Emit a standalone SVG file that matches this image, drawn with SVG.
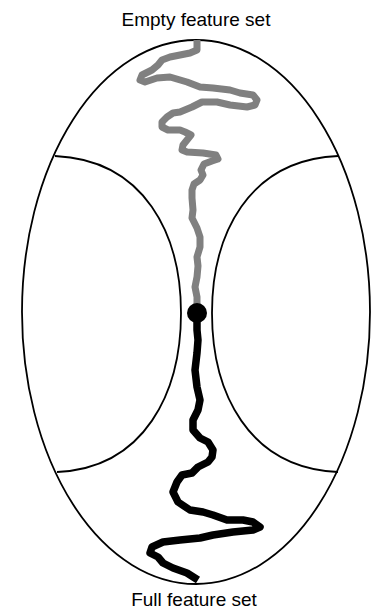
<svg xmlns="http://www.w3.org/2000/svg" width="371" height="614" viewBox="0 0 371 614">
<style>
.lbl{font-family:"Liberation Sans",Arial,sans-serif;font-size:19px;fill:#000;text-anchor:middle}
.edge{fill:none;stroke:#000;stroke-width:1.8}
.gpath{fill:none;stroke:#808080;stroke-width:7;stroke-linejoin:round;stroke-linecap:butt}
.bpath{fill:none;stroke:#000;stroke-width:7.5;stroke-linejoin:round;stroke-linecap:butt}
</style>
<rect width="371" height="614" fill="#fff"/>
<g id="outer">
<ellipse class="edge" cx="196" cy="312" rx="174" ry="272"/>
</g>
<g id="left-region">
<path class="edge" d="M55,156 C145,160 181,235 181,313 C181,392 145,468 57,472"/>
</g>
<g id="right-region">
<path class="edge" d="M338,156 C248,160 212,235 212,313 C212,392 248,468 338,472"/>
</g>
<g id="connectors">
<path class="gpath" d="M197,40 L197,50 L190,53 L170,57 L162,60 L158,65 L152,70 L142,75 L140,80 L145,82 L157,78 L170,77 L187,82 L200,87 L213,88 L230,90 L240,93 L253,95 L257,100 L255,105 L247,107 L230,105 L217,102 L202,102 L192,107 L180,112 L173,113 L167,117 L162,122 L162,127 L168,130 L180,130 L185,132 L191,135 L187,140 L183,145 L182,150 L187,152 L203,153 L216,155 L218,159 L212,161 L204,164 L201,170 L203,175 L200,180 L194,184 L192,190 L192,198 L193,210 L192,218 L197,228 L200,237 L200,247 L197,257 L198,266 L197,277 L195,287 L197,297 L197,313"/>
<path class="bpath" d="M197,313 L197,330 L198,340 L197,353 L195,370 L197,387 L200,400 L198,410 L193,420 L193,430 L200,438 L208,442 L213,450 L212,457 L208,462 L198,467 L192,473 L182,475 L177,482 L173,492 L178,502 L190,510 L203,512 L213,515 L227,520 L243,520 L253,522 L260,527 L253,530 L233,532 L213,535 L200,538 L180,540 L163,542 L152,547 L150,553 L158,557 L163,563 L173,568 L187,573 L198,580"/>
</g>
<g id="point">
<circle cx="197" cy="313" r="10" fill="#000"/>
</g>
<g id="label-top">
<text class="lbl" x="196" y="26">Empty feature set</text>
</g>
<g id="label-bottom">
<text class="lbl" x="194" y="606">Full feature set</text>
</g>
</svg>
